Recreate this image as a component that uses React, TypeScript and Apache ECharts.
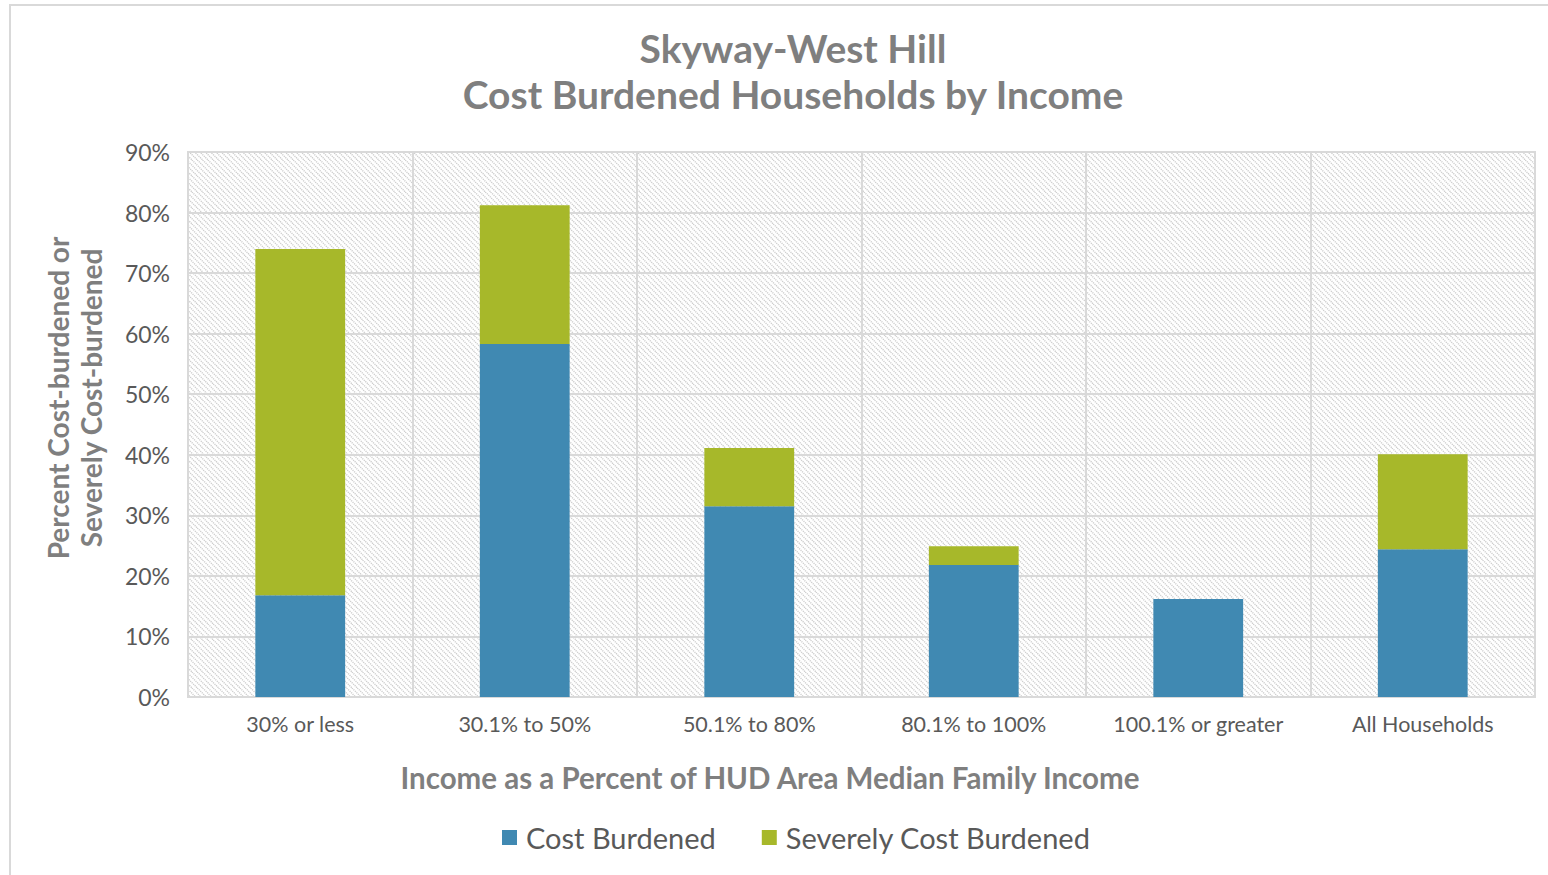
import React, { useEffect, useRef } from "react";
import * as echarts from "echarts";

const categories = ["30% or less", "30.1% to 50%", "50.1% to 80%", "80.1% to 100%", "100.1% or greater", "All Households"];
const costBurdened = [16.8, 58.3, 31.5, 21.8, 16.2, 24.4];
const severelyCostBurdened = [57.2, 22.9, 9.6, 3.1, 0, 15.7];
const yTicks = [0, 10, 20, 30, 40, 50, 60, 70, 80, 90];

const FONT = "Lato, 'Open Sans', sans-serif";

function hatchUrl(): string {
  const T = 16;
  const p = T / 3;
  let lines = "";
  for (let c = -2 * T; c <= 2 * T; c += p) {
    lines += `<line x1='${c}' y1='0' x2='${c + T}' y2='${T}' />`;
  }
  const svg = `<svg xmlns='http://www.w3.org/2000/svg' width='${T}' height='${T}'><rect width='${T}' height='${T}' fill='#ffffff'/><g stroke='#cccccc' stroke-width='1.4' stroke-dasharray='1.2 0.9'>${lines}</g></svg>`;
  return "data:image/svg+xml;charset=utf-8," + encodeURIComponent(svg);
}

export default function App() {
  const ref = useRef<HTMLDivElement>(null);
  useEffect(() => {
    if (!ref.current) return;
    const chart = echarts.init(ref.current, undefined, { renderer: "svg" });
    const hatch: any = { image: hatchUrl(), repeat: "repeat" };
    chart.setOption({
      animation: false,
      backgroundColor: "#ffffff",
      title: {
        text: "Skyway-West Hill\nCost Burdened Households by Income",
        left: 788,
        textAlign: "center",
        top: 20,
        textStyle: {
          fontFamily: FONT,
          fontWeight: "bold",
          fontSize: 39,
          color: "#7f7f7f",
          lineHeight: 46,
        },
      },
      legend: {
        top: 818,
        left: 497,
        itemWidth: 15,
        itemHeight: 15,
        itemGap: 46,
        icon: "rect",
        textStyle: { fontFamily: FONT, fontSize: 29, color: "#595959", padding: [0, 0, 0, 4] },
        data: ["Cost Burdened", "Severely Cost Burdened"],
      },
      grid: {
        left: 188,
        right: 13,
        top: 152,
        bottom: 178,
        show: true,
        backgroundColor: hatch,
        borderColor: "#d9d9d9",
        borderWidth: 2,
      },
      xAxis: {
        type: "category",
        data: categories,
        axisTick: { show: false },
        axisLine: { lineStyle: { color: "#d9d9d9", width: 2 } },
        axisLabel: { interval: 0, fontFamily: FONT, fontSize: 21.5, color: "#595959", margin: 16 },
        splitLine: { show: true, interval: 0, lineStyle: { color: "#d9d9d9", width: 2 } },
      },
      yAxis: {
        type: "value",
        min: 0,
        max: 90,
        interval: 10,
        axisLine: { show: false },
        axisTick: { show: false },
        axisLabel: {
          fontFamily: FONT,
          fontSize: 23,
          color: "#595959",
          margin: 18,
          formatter: (v: number) => (yTicks.includes(v) ? v + "%" : ""),
        },
        splitLine: { lineStyle: { color: "#d9d9d9", width: 2 } },
      },
      graphic: [
        {
          type: "rect",
          silent: true,
          shape: { x: 10, y: 5, width: 1560, height: 900 },
          style: { fill: "none", stroke: "#d9d9d9", lineWidth: 2 },
        },
        {
          type: "text",
          x: 74,
          y: 398,
          rotation: Math.PI / 2,
          style: {
            text: "Percent Cost-burdened or\nSeverely Cost-burdened",
            align: "center",
            verticalAlign: "middle",
            fontFamily: FONT,
            fontWeight: "bold",
            fontSize: 28,
            lineHeight: 33,
            fill: "#7f7f7f",
          },
        },
        {
          type: "text",
          x: 770,
          y: 777,
          style: {
            text: "Income as a Percent of HUD Area Median Family Income",
            align: "center",
            verticalAlign: "middle",
            fontFamily: FONT,
            fontWeight: "bold",
            fontSize: 29.5,
            fill: "#7f7f7f",
          },
        },
      ],
      series: [
        {
          name: "Cost Burdened",
          type: "bar",
          stack: "total",
          barWidth: "40%",
          itemStyle: { color: "#4089b2" },
          data: costBurdened,
        },
        {
          name: "Severely Cost Burdened",
          type: "bar",
          stack: "total",
          barWidth: "40%",
          itemStyle: { color: "#a7b82a" },
          data: severelyCostBurdened,
        },
      ],
    });
    return () => chart.dispose();
  }, []);
  return (
    <div
      ref={ref}
      style={{ position: "fixed", left: 0, top: 0, width: 1548, height: 875 }}
    />
  );
}
